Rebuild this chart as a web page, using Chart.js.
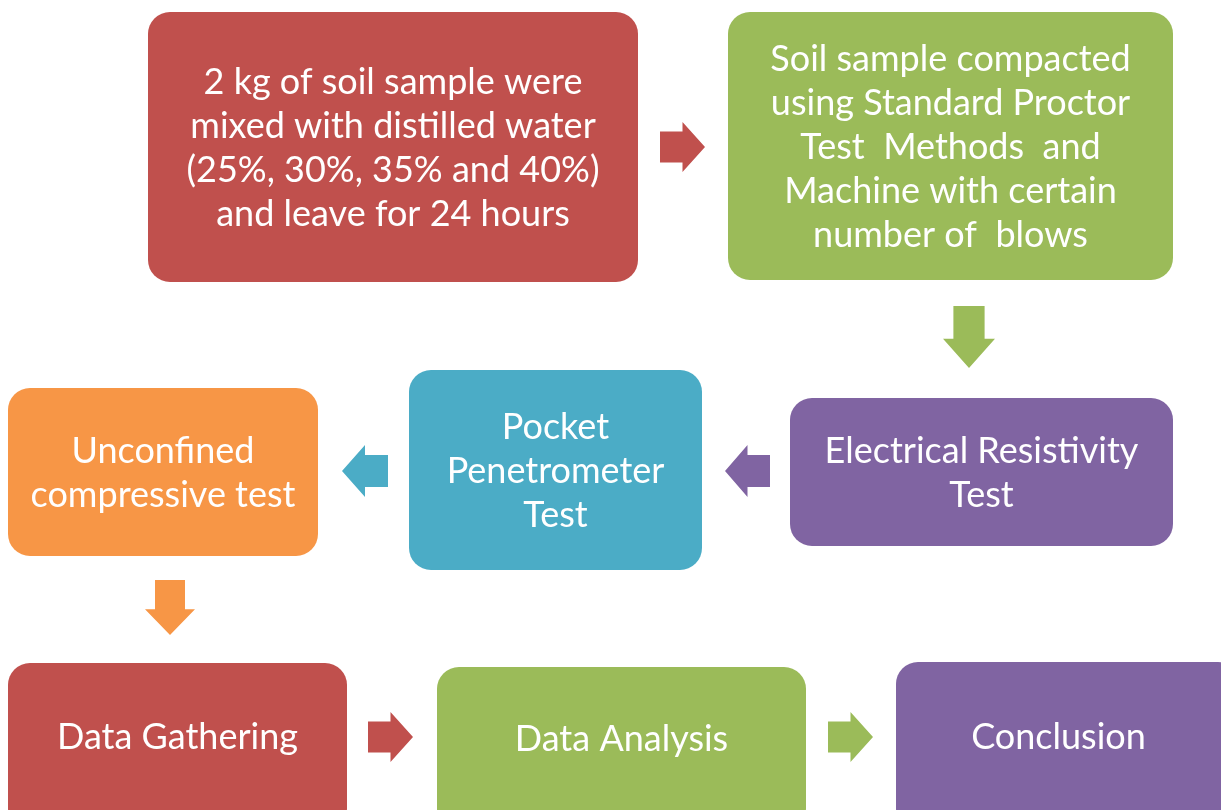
<!DOCTYPE html>
<html>
<head>
<meta charset="utf-8">
<title>Soil test flowchart</title>
<script src="https://cdn.jsdelivr.net/npm/chart.js@4.4.1/dist/chart.umd.min.js"></script>
<style>
  html, body { margin: 0; padding: 0; background: #ffffff; }
  #wrap { width: 1221px; height: 810px; }
</style>
</head>
<body>
<div id="wrap"><canvas id="flow" width="1221" height="810"></canvas></div>
<script>
// step texts (one entry per box, one string per line)
var stepLabels = [
    ['2 kg of soil sample were', 'mixed with distilled water', '(25%, 30%, 35% and 40%)', 'and leave for 24 hours'],
    ['Soil sample compacted', 'using Standard Proctor', 'Test  Methods  and', 'Machine with certain', 'number of  blows'],
    ['Electrical Resistivity', 'Test'],
    ['Pocket', 'Penetrometer', 'Test'],
    ['Unconfined', 'compressive test'],
    ['Data Gathering'],
    ['Data Analysis'],
    ['Conclusion']
];
var stepColors = ['#c0504d', '#9bbb59', '#8064a2', '#4bacc6', '#f79646', '#c0504d', '#9bbb59', '#8064a2'];

// box layout in diagram units
var boxLeft   = [148, 728, 790, 409,   8,   8, 437, 896];
var boxRight  = [638, 1173, 1173, 702, 318, 347, 806, 1240];
var boxTop    = [12,  12, 398, 370, 388, 663, 667, 662];
var boxBottom = [282, 280, 546, 570, 556, 830, 830, 830];

// arrows: bounding box, direction and colour
var arrowLeft   = [660, 943, 725, 342, 145, 368, 828];
var arrowRight  = [705, 995, 770, 388, 195, 413, 873];
var arrowTop    = [122, 306, 445, 445, 580, 712, 712];
var arrowBottom = [172, 368, 497, 497, 635, 762, 762];
var arrowDir    = ['right', 'down', 'left', 'left', 'down', 'right', 'right'];
var arrowColors = ['#c0504d', '#9bbb59', '#8064a2', '#4bacc6', '#f79646', '#c0504d', '#9bbb59'];

var flowPlugin = {
    id: 'flowBoxes',
    afterDatasetsDraw: function(chart) {
        var ctx = chart.ctx;
        var xs = chart.scales.x;
        var ys = chart.scales.y;
        ctx.save();

        for (var i = 0; i < stepLabels.length; i++) {
            var x0 = xs.getPixelForValue(boxLeft[i]);
            var x1 = xs.getPixelForValue(boxRight[i]);
            var y0 = ys.getPixelForValue(boxTop[i]);
            var y1 = ys.getPixelForValue(boxBottom[i]);
            ctx.beginPath();
            ctx.roundRect(x0, y0, x1 - x0, y1 - y0, 22);
            ctx.fillStyle = stepColors[i];
            ctx.fill();

            // text centred in the visible part of the box
            var visBottom = Math.min(y1, chart.height);
            var visRight = Math.min(x1, chart.width);
            var cx = (x0 + visRight) / 2;
            var cy = (y0 + visBottom) / 2 + 1;
            var lines = stepLabels[i];
            var lh = 44;
            ctx.fillStyle = '#ffffff';
            ctx.font = '36px Lato, "Open Sans", sans-serif';
            ctx.textAlign = 'center';
            ctx.textBaseline = 'middle';
            for (var j = 0; j < lines.length; j++) {
                ctx.fillText(lines[j], cx, cy + (j - (lines.length - 1) / 2) * lh);
            }
        }

        for (var k = 0; k < arrowDir.length; k++) {
            var ax0 = xs.getPixelForValue(arrowLeft[k]);
            var ax1 = xs.getPixelForValue(arrowRight[k]);
            var ay0 = ys.getPixelForValue(arrowTop[k]);
            var ay1 = ys.getPixelForValue(arrowBottom[k]);
            var w = ax1 - ax0, h = ay1 - ay0;
            ctx.beginPath();
            if (arrowDir[k] === 'right' || arrowDir[k] === 'left') {
                var s0 = ay0 + h * 0.19, s1 = ay1 - h * 0.19, my = (ay0 + ay1) / 2;
                if (arrowDir[k] === 'right') {
                    var hx = ax0 + w * 0.5;
                    ctx.moveTo(ax0, s0); ctx.lineTo(hx, s0); ctx.lineTo(hx, ay0);
                    ctx.lineTo(ax1, my); ctx.lineTo(hx, ay1); ctx.lineTo(hx, s1); ctx.lineTo(ax0, s1);
                } else {
                    var lx = ax1 - w * 0.5;
                    ctx.moveTo(ax1, s0); ctx.lineTo(lx, s0); ctx.lineTo(lx, ay0);
                    ctx.lineTo(ax0, my); ctx.lineTo(lx, ay1); ctx.lineTo(lx, s1); ctx.lineTo(ax1, s1);
                }
            } else {
                var t0 = ax0 + w * 0.2, t1 = ax1 - w * 0.2, mx = (ax0 + ax1) / 2;
                var hy = ay0 + h * 0.53;
                ctx.moveTo(t0, ay0); ctx.lineTo(t1, ay0); ctx.lineTo(t1, hy); ctx.lineTo(ax1, hy);
                ctx.lineTo(mx, ay1); ctx.lineTo(ax0, hy); ctx.lineTo(t0, hy);
            }
            ctx.closePath();
            ctx.fillStyle = arrowColors[k];
            ctx.fill();
        }
        ctx.restore();
    }
};

new Chart(document.getElementById('flow'), {
    type: 'scatter',
    data: {
        datasets: [{
            data: [],
            pointRadius: 0
        }]
    },
    options: {
        responsive: false,
        animation: false,
        layout: { padding: 0 },
        plugins: {
            legend: { display: false },
            tooltip: { enabled: false }
        },
        scales: {
            x: { type: 'linear', min: 0, max: 1221, display: false },
            y: { type: 'linear', min: 0, max: 810, reverse: true, display: false }
        }
    },
    plugins: [flowPlugin]
});
</script>
</body>
</html>
